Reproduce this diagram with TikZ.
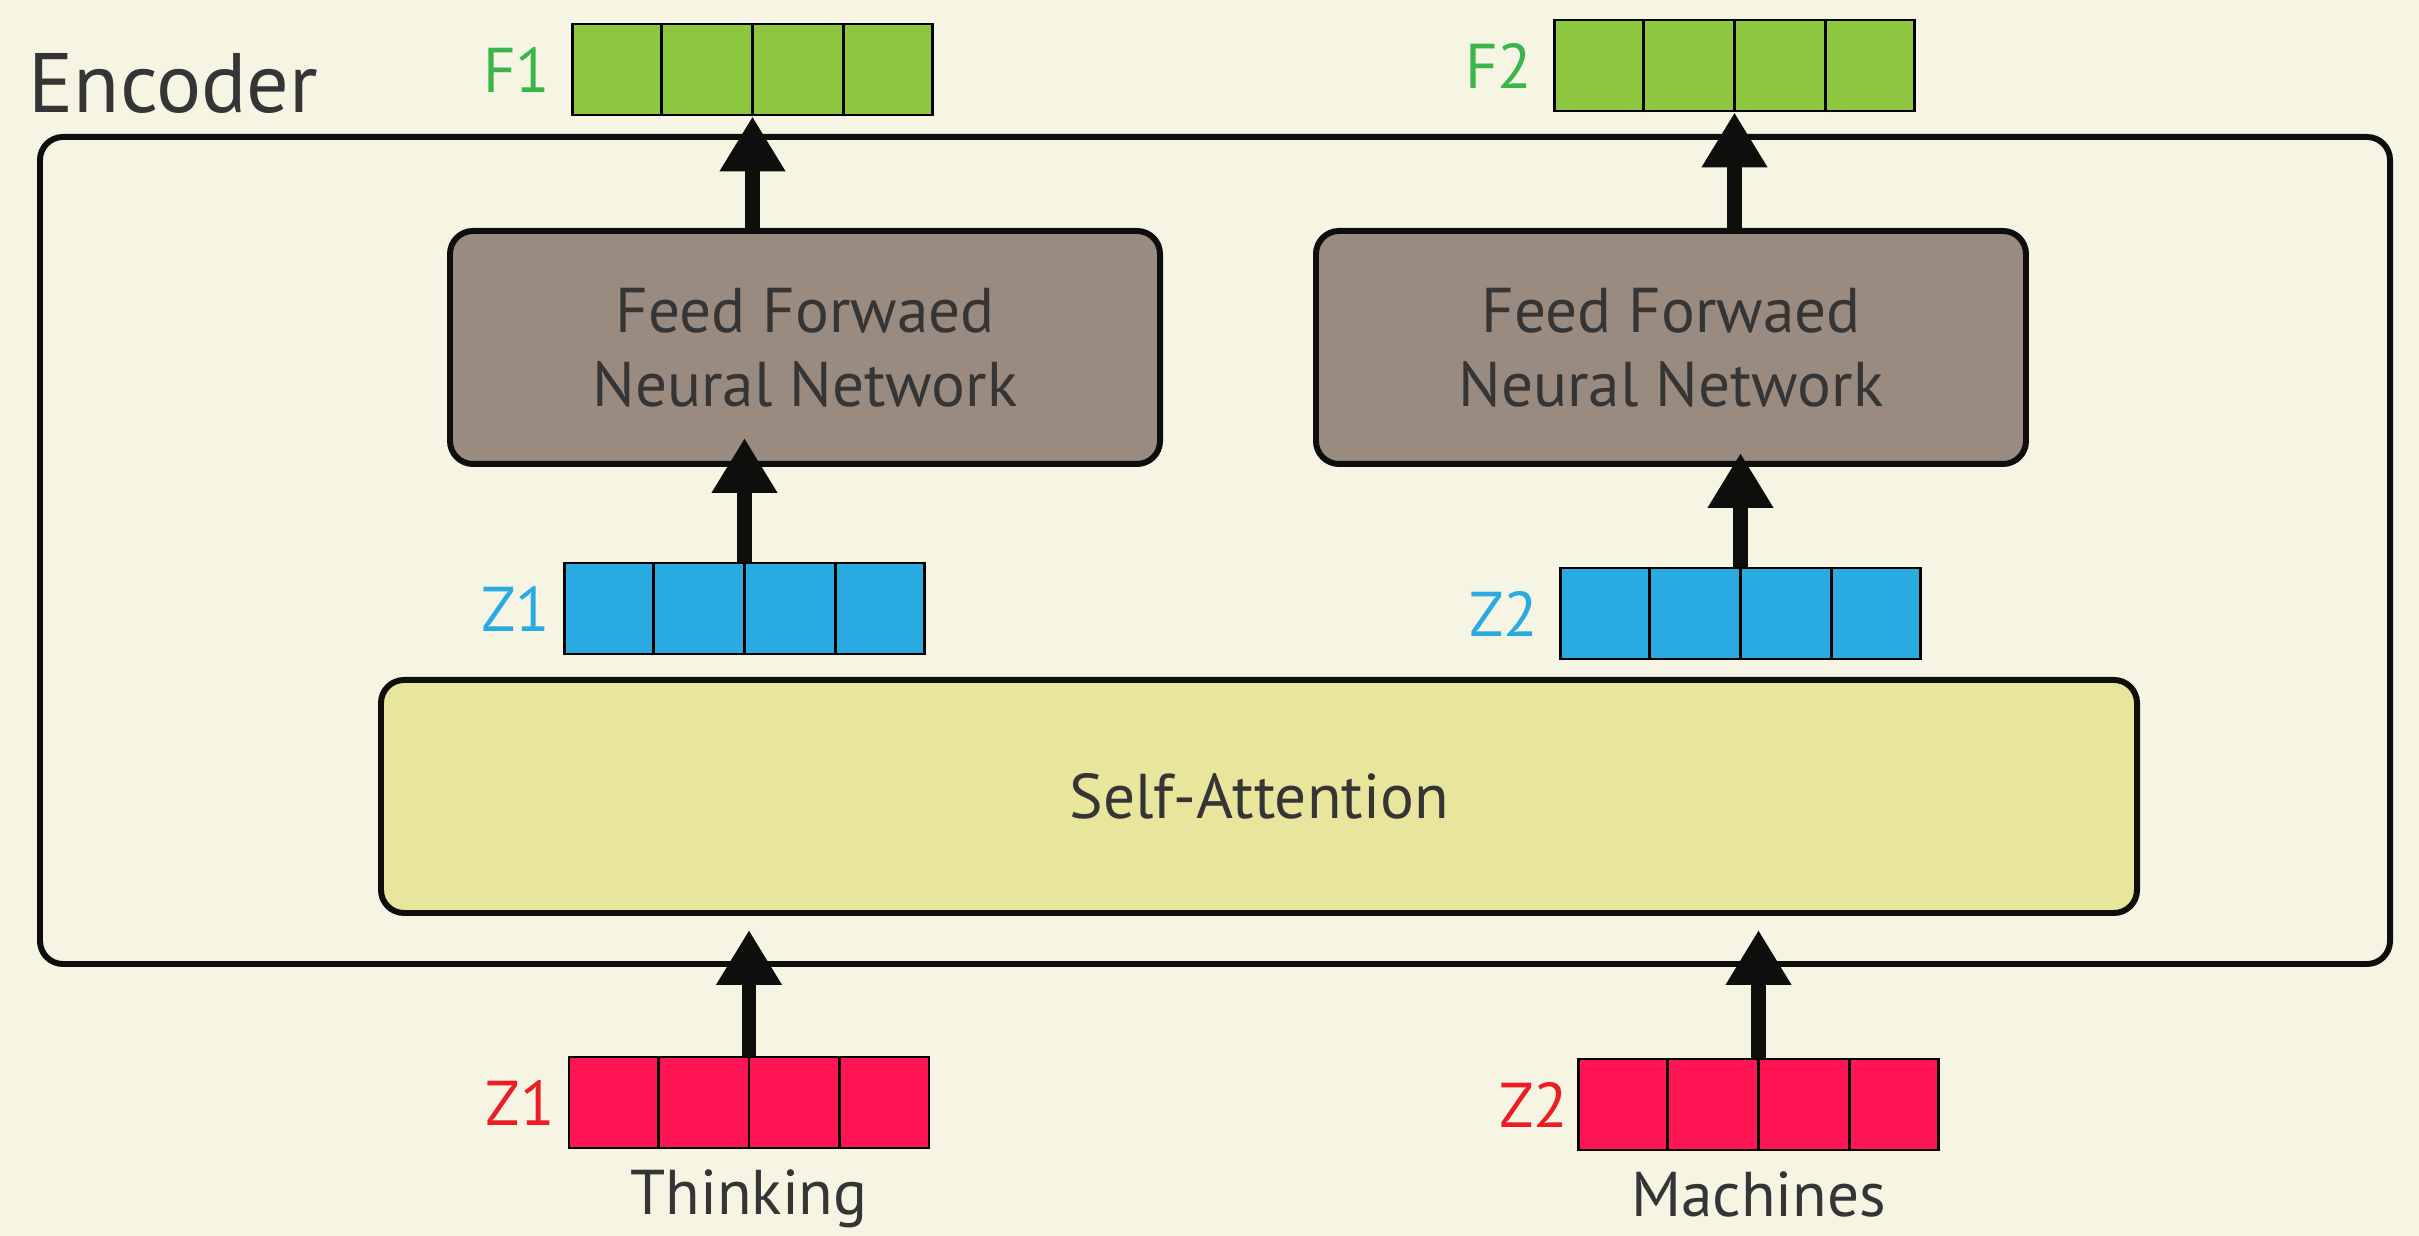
\documentclass[tikz,border=0pt]{standalone}
\usepackage{fontspec}
\setmainfont{PT Sans}
\usetikzlibrary{arrows.meta,positioning,calc}
\definecolor{bgcream}{HTML}{F6F5E3}
\definecolor{edge}{HTML}{0E0E0C}
\definecolor{ink}{HTML}{353535}
\definecolor{ffnfill}{HTML}{998B7F}
\definecolor{safill}{HTML}{E8E59C}
\definecolor{vgreen}{HTML}{8DC63F}
\definecolor{vblue}{HTML}{29ABE2}
\definecolor{vred}{HTML}{FF1454}
\definecolor{lgreen}{HTML}{39B54A}
\definecolor{lred}{HTML}{ED1C24}

\begin{document}
\begin{tikzpicture}[box/.style={draw=edge,line width=1.7pt,rounded corners=0.23cm,
                        text=ink,font=\fontsize{18}{21}\selectfont,align=center},
                    vec/.style={draw=black,line width=0.8pt,minimum width=3.6cm,
                        minimum height=0.91cm,inner sep=0pt},
                    lab/.style={font=\fontsize{18}{21}\selectfont,inner sep=0pt},
                    up/.style={-{Triangle[width=0.62cm,length=0.55cm]},line width=4pt,draw=edge}]

      \fill[bgcream] (0,0) rectangle (24.19,12.36);
      \useasboundingbox (0,0) rectangle (24.19,12.36);

      % encoder and its blocks
      \node[box,fill=bgcream,minimum width=23.5cm,minimum height=8.27cm] (enc) at (12.15,6.855) {};
      \node[text=ink,font=\fontsize{24}{28}\selectfont,anchor=base west,inner sep=0pt] (title) at (0.28,11.23) {Encoder};
      \node[box,fill=ffnfill,minimum width=7.1cm,minimum height=2.33cm] (ffn1) at (8.05,8.885) {Feed Forwaed\\Neural Network};
      \node[box,fill=ffnfill,minimum width=7.1cm,minimum height=2.33cm] (ffn2) [right=1.5cm of ffn1] {Feed Forwaed\\Neural Network};
      \node[box,fill=safill,minimum width=17.56cm,minimum height=2.33cm] (sa) at (12.59,4.395) {Self-Attention};

      % vectors
      \node[vec,fill=vgreen] (f1) at (7.525,11.665) {};
      \node[vec,fill=vgreen] (f2) at (17.345,11.705) {};
      \node[vec,fill=vblue] (zb1) at (7.445,6.275) {};
      \node[vec,fill=vblue] (zb2) at (17.405,6.225) {};
      \node[vec,fill=vred] (zr1) at (7.49,1.335) {};
      \node[vec,fill=vred] (zr2) at (17.585,1.315) {};
      \foreach \v in {f1,f2,zb1,zb2,zr1,zr2}
        \foreach \k in {1,2,3}
          \draw[line width=0.8pt] ($(\v.south west)!\k/4!(\v.south east)$) -- ($(\v.north west)!\k/4!(\v.north east)$);

      \node[lab,text=lgreen] (f1l) [left=0.2cm of f1] {F1};
      \node[lab,text=lgreen] (f2l) [left=0.2cm of f2] {F2};
      \node[lab,text=vblue] (zb1l) [left=0.12cm of zb1] {Z1};
      \node[lab,text=vblue] (zb2l) [left=0.2cm of zb2] {Z2};
      \node[lab,text=lred] (zr1l) [left=0.12cm of zr1] {Z1};
      \node[lab,text=lred] (zr2l) [left=0.08cm of zr2] {Z2};
      \node[lab,text=ink] (w1) [below=0.2cm of zr1] {Thinking};
      \node[lab,text=ink] (w2) [below=0.2cm of zr2] {Machines};

      % arrows
      \draw[up] (ffn1.north -| f1.south) -- (f1.south);
      \draw[up] (ffn2.north -| f2.south) -- (f2.south);
      \draw[up,shorten >=-0.29cm] (zb1.north) -- (zb1.north |- ffn1.south);
      \draw[up,shorten >=-0.14cm] (zb2.north) -- (zb2.north |- ffn2.south);
      \draw[up,shorten >=0.14cm] (zr1.north) -- (zr1.north |- sa.south);
      \draw[up,shorten >=0.14cm] (zr2.north) -- (zr2.north |- sa.south);
    \end{tikzpicture}
\end{document}
